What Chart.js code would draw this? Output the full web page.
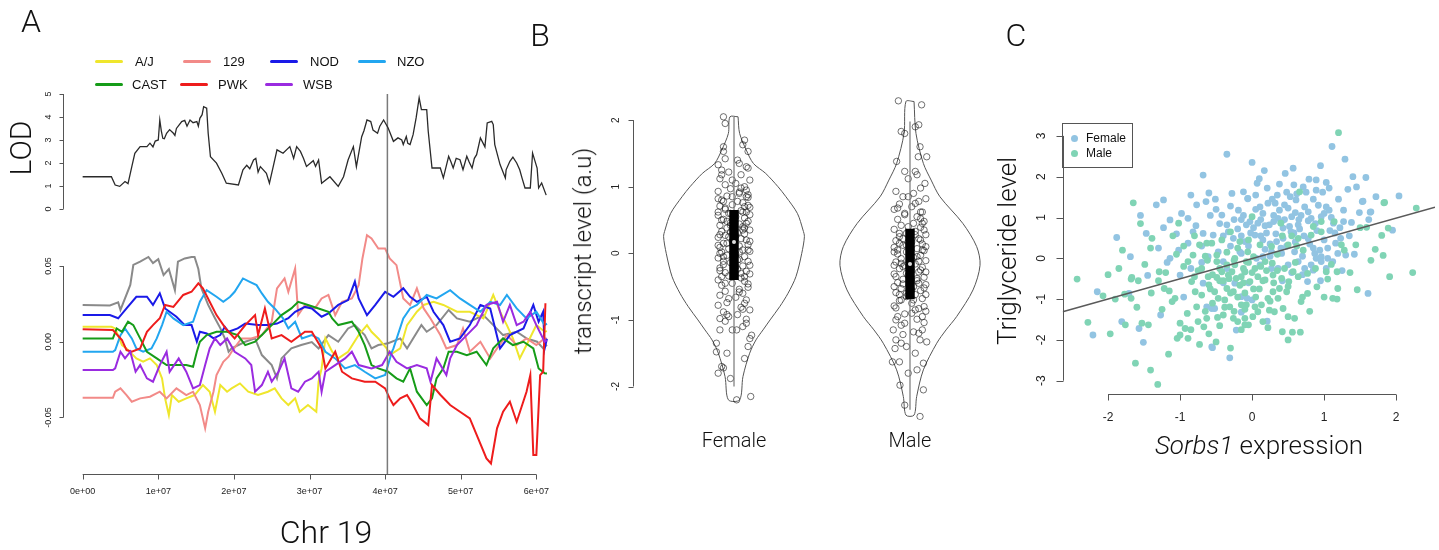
<!DOCTYPE html>
<html>
<head>
<meta charset="utf-8">
<script src="https://cdn.jsdelivr.net/npm/chart.js@4.4.0/dist/chart.umd.min.js"></script>
<style>
body { margin: 0; background: #fff; }
#wrap { position: relative; width: 1439px; height: 550px; overflow: hidden; font-family: "Liberation Sans", Arial, sans-serif; color: #111; }
#wrap canvas { position: absolute; left: 0; top: 0; }
.t { position: absolute; white-space: nowrap; line-height: 1; transform: translate(-50%, -50%); }
.big { font-family: Roboto, "Liberation Sans", sans-serif; font-weight: 300; }
.rot { transform: translate(-50%, -50%) rotate(-90deg); }
.seg { position: absolute; height: 3px; width: 28px; border-radius: 2px; }
.lg { position: absolute; font-size: 13px; line-height: 1; transform: translateY(-50%); }
</style>
</head>
<body>
<div id="wrap">
  <canvas id="lodChart" width="1439" height="550"></canvas>
  <canvas id="effChart" width="1439" height="550"></canvas>
  <canvas id="violinChart" width="1439" height="550"></canvas>
  <canvas id="scatterChart" width="1439" height="550"></canvas>

  <div class="t big" style="left:31px;top:21px;font-size:32px">A</div>
  <div class="t big" style="left:540px;top:35px;font-size:32px">B</div>
  <div class="t big" style="left:1016px;top:35px;font-size:32px">C</div>

  <div class="t big rot" style="left:21px;top:148px;font-size:30px">LOD</div>
  <div class="t big" style="left:326px;top:532px;font-size:32px">Chr 19</div>
  <div class="t big rot" style="left:583px;top:251px;font-size:24px">transcript level (a.u)</div>
  <div class="t big" style="left:734px;top:440px;font-size:20px">Female</div>
  <div class="t big" style="left:910px;top:440px;font-size:20px">Male</div>
  <div class="t big rot" style="left:1007px;top:251px;font-size:26px">Triglyceride level</div>
  <div class="t big" style="left:1259px;top:445px;font-size:26px"><i>Sorbs1</i> expression</div>

  <div id="legendA"></div>

  <div style="position:absolute;left:1062px;top:123px;width:71px;height:45px;border:1px solid #555;box-sizing:border-box"></div>
  <div style="position:absolute;left:1071px;top:135px;width:7px;height:7px;border-radius:50%;background:#92c4e2"></div>
  <div class="lg" style="left:1086px;top:138px;font-size:12px">Female</div>
  <div style="position:absolute;left:1071px;top:150px;width:7px;height:7px;border-radius:50%;background:#80d4b5"></div>
  <div class="lg" style="left:1086px;top:153px;font-size:12px">Male</div>
</div>

<script>
// ---------- Panel A data (position in Mb, effects in 1e-3) ----------
const strainNames = ['A/J', '129', 'NOD', 'NZO', 'CAST', 'PWK', 'WSB'];
const strainColors = ['#efe62c', '#f28a88', '#1a1ae8', '#22a6f0', '#169c18', '#ee1c1c', '#9a2be0'];
const b6Color = '#8a8a8a';

const lodTrace = [[0,1.40],[3.8,1.40],[4.3,1.04],[4.9,0.98],[5.6,1.19],[6.0,1.10],[6.5,1.84],[6.9,2.42],[7.6,2.71],[8.5,2.71],[8.9,2.86],[9.3,2.70],[9.6,2.95],[10.0,3.0],[10.2,3.87],[10.4,3.4],[10.6,3.07],[10.8,3.05],[11.1,3.29],[11.5,3.45],[12.0,3.29],[12.2,3.2],[12.4,3.5],[13.1,3.8],[13.5,3.85],[13.8,3.6],[14.2,3.87],[14.6,3.75],[15.1,3.8],[15.3,3.6],[15.5,3.94],[15.8,4.1],[16.0,4.45],[16.4,4.38],[16.6,3.29],[16.9,2.27],[17.7,1.99],[18.4,1.55],[19.0,1.12],[20.6,1.04],[21.2,1.70],[21.7,1.9],[22.1,1.75],[22.6,2.13],[22.9,2.2],[23.2,1.6],[23.5,1.84],[24.3,1.55],[24.7,1.12],[25.2,1.84],[25.7,2.57],[26.5,2.42],[27.4,2.71],[27.9,2.2],[28.3,2.71],[28.8,2.5],[29.2,2.2],[29.6,1.85],[30.1,1.99],[30.5,2.1],[30.8,1.85],[31.2,2.13],[31.6,1.12],[32.7,1.40],[33.8,0.98],[34.5,1.40],[35.1,2.13],[35.8,2.71],[36.2,1.84],[36.9,3.14],[37.2,3.4],[37.6,3.87],[38.1,3.8],[38.4,3.43],[39.0,3.29],[39.3,3.6],[39.8,3.87],[40.4,3.52],[41.1,2.94],[41.7,3.09],[42.2,3.0],[42.4,2.8],[42.8,3.15],[43.0,2.85],[43.3,2.8],[43.7,3.23],[44.1,3.96],[44.5,4.83],[44.8,4.32],[45.5,4.32],[45.7,3.38],[46.2,1.78],[47.3,1.78],[47.7,1.35],[48.4,2.29],[48.7,2.05],[49.0,1.78],[49.4,2.2],[49.9,2.14],[50.3,1.71],[50.8,2.29],[51.1,2.05],[51.5,1.78],[51.8,2.2],[52.1,2.36],[52.6,3.09],[53.2,2.7],[53.5,3.74],[54.1,3.81],[54.3,3.67],[54.5,2.8],[55.2,1.93],[55.9,1.35],[56.0,1.7],[56.5,2.07],[56.9,2.25],[57.4,2.0],[57.8,1.7],[58.1,1.35],[58.5,0.91],[59.2,0.91],[59.5,2.43],[59.8,2.1],[60.1,1.78],[60.3,0.91],[60.7,1.13],[61.3,0.6]];

const effB6 = [[0,24.3],[3.6,24],[4.7,26],[5.0,21],[6.3,37.5],[6.7,50.7],[7.6,52.9],[8.7,56],[9.3,52],[10.0,54.5],[10.7,44],[11.4,48],[12.2,34],[12.6,52.9],[13.5,55],[14.4,56],[14.8,56],[15.3,48],[15.7,35.3],[16.6,24.3],[17.5,15.5],[18.2,9],[18.8,2.2],[19.3,-6.6],[19.7,-4.4],[21.5,0],[22.8,2.2],[23.7,-8.8],[25.0,-15.4],[25.7,-24.2],[26.3,-11],[27.6,-4.4],[28.9,-2.2],[30.3,-0.2],[31.2,-4.4],[32.5,4.4],[33.8,0],[35.1,8.8],[36.0,11],[37.3,4.4],[38.2,-4.4],[39.1,-2.2],[40.4,-1],[42.0,2.2],[42.9,-4.4],[43.7,2.2],[44.8,11],[45.5,6.6],[46.8,11],[48.4,21],[49.5,15.4],[51.2,13.2],[53.0,17.6],[54.3,11],[55.6,4.4],[57.4,6.6],[58.7,2.2],[60.1,0],[60.9,-4.4],[61.4,-2]];
const effAJ = [[0,9.9],[3.8,9.9],[4.3,8.8],[5.2,-2.2],[5.8,-4.4],[7.1,-11],[8.0,-13.2],[8.9,-11],[9.8,-15.4],[10.5,-24.2],[10.9,-37.4],[11.4,-48.4],[11.8,-35.2],[12.7,-39.6],[13.7,-37.4],[14.8,-35.2],[15.9,-28.6],[16.8,-33],[17.5,-46.2],[18.2,-28.6],[19.1,-33],[19.7,-30.8],[20.8,-27.5],[21.9,-33],[23.2,-35.2],[24.5,-33],[25.4,-30.8],[26.3,-37.4],[27.2,-41.8],[28.1,-37.4],[28.7,-46.2],[29.8,-41.8],[30.9,-46.2],[31.2,-26.4],[31.6,-17.6],[32.1,2.2],[33.0,-6.6],[33.8,-11],[35.1,-6.6],[36.5,4.4],[37.6,11],[38.2,6.6],[39.1,2.2],[40.2,-4.4],[40.6,-8.8],[42.0,-4.4],[42.9,11],[44.2,19.8],[45.1,24.3],[46.4,26.4],[47.7,24.3],[49.5,19.8],[51.2,19.8],[53.0,15.4],[54.3,30.9],[55.2,19.8],[56.1,11],[56.9,2.2],[57.8,-11],[58.7,-2.2],[60.0,11],[61.1,6.6],[61.4,7]];
const eff129 = [[0,-37],[4.0,-37],[4.3,-33],[5.0,-30.8],[5.8,-35.2],[6.5,-39.6],[7.6,-37.4],[8.9,-36.3],[10.2,-33],[11.1,-37.4],[12.4,-30.8],[13.7,-35.2],[14.6,-33],[15.5,-41.8],[16.2,-57.2],[16.6,-46.2],[17.3,-33],[17.7,-22],[18.6,-13.2],[19.3,-9.9],[19.7,-6.6],[21.0,2.2],[22.3,2.2],[23.7,4.4],[25.0,13.2],[25.7,35.3],[26.7,41.8],[27.2,33],[28.1,48.4],[28.5,17.6],[29.4,24.3],[30.7,22],[31.6,28.6],[32.5,30.9],[33.4,17.6],[34.3,26.4],[35.6,28.6],[36.5,37.4],[37.0,55],[37.6,70.4],[38.2,68.2],[39.1,61.6],[40.0,61.6],[40.6,55],[41.5,50.6],[42.4,28.6],[43.3,24.3],[44.2,35.2],[45.1,22],[46.0,15.4],[47.3,4.4],[48.1,-4.4],[49.5,-2.2],[50.3,8.8],[51.2,-6.6],[52.6,0],[53.9,-11],[54.8,-4.4],[56.1,4.4],[57.4,-2.2],[58.7,2.2],[60.0,-2.2],[61.1,2.2],[61.4,2]];
const effNOD = [[0,17.6],[3.6,17.6],[4.7,15.5],[5.8,22],[7.1,29.7],[8.5,29.7],[9.3,24.3],[10.2,32],[10.9,22],[11.5,19.8],[12.4,16.5],[13.5,11],[14.4,11],[15.1,0],[15.5,6.6],[16.4,5.5],[17.3,2.2],[18.2,4.4],[18.8,9.9],[19.3,6.6],[20.5,8.8],[21.5,12],[23.2,11],[24.5,11],[25.7,12],[27.2,15.5],[28.1,19.8],[29.4,23],[30.3,22],[31.6,16.5],[32.5,18.7],[33.8,24.3],[35.1,27.5],[36.0,39.7],[36.5,28.6],[37.6,17.6],[38.7,24.3],[40.0,33],[41.1,29.7],[42.4,35.3],[43.3,29.7],[44.2,26.4],[45.5,29.7],[46.4,19.8],[47.7,11],[48.6,0],[49.9,2.2],[51.2,11],[52.6,24.3],[53.9,22],[55.2,-4.4],[56.5,4.4],[58.3,8.8],[59.6,24.3],[60.3,13.2],[60.9,19.8],[61.1,-4.4],[61.4,2]];
const effNZO = [[0,-6.6],[4.0,-6.6],[4.3,-5.5],[5.0,4.4],[5.6,8.8],[6.5,2.2],[7.1,-4.4],[8.0,-6.6],[9.1,-4.4],[9.8,2.2],[10.5,11],[11.1,19.8],[12.0,15.4],[13.3,11],[14.6,13.2],[15.5,26.4],[16.4,34.1],[17.7,29.7],[18.6,26.4],[19.5,29.7],[20.1,33],[21.2,41.8],[22.1,39.6],[23.0,37.4],[23.7,31.9],[24.5,26.4],[25.4,22],[26.5,15.4],[27.2,8.8],[28.1,13.2],[29.0,2.2],[30.3,4.4],[31.2,2.2],[32.1,-6.6],[33.4,-11],[34.7,-17.6],[36.0,-15.4],[37.3,-19.8],[38.7,-24.2],[40.0,-22],[40.9,-6.6],[41.1,-4.4],[42.4,15.4],[43.3,22],[44.2,24.3],[45.5,30.9],[46.8,28.6],[48.6,34.1],[49.9,28.6],[51.2,24.3],[52.6,19.8],[53.9,26.4],[55.2,24.3],[56.1,30.9],[57.4,22],[58.7,15.4],[60.0,19.8],[61.1,11],[61.4,12]];
const effCAST = [[0,2.2],[4.0,2.2],[4.5,8.8],[5.2,6.6],[6.0,13.2],[6.7,11],[7.6,2.2],[8.5,-6.6],[9.8,-11],[11.1,-15.4],[12.4,-15.4],[13.7,-15.4],[14.6,-16.5],[15.1,-6.6],[15.5,0],[16.4,4.4],[17.7,6.6],[19.1,6.6],[20.5,4.4],[21.5,-2.2],[22.8,0],[23.7,4.4],[25.0,11],[26.3,17.6],[27.6,22],[28.5,26.4],[29.8,24.3],[31.2,22],[32.5,19.8],[33.0,15.4],[33.8,11],[35.6,13.2],[36.5,6.6],[37.3,-2.2],[38.2,-15.4],[39.1,-17.6],[40.4,-19.8],[41.5,-24.2],[42.4,-26.4],[43.3,-17.6],[44.2,-33],[45.5,-41.8],[46.2,-37.4],[46.8,-24.2],[47.7,-17.6],[48.4,-6.6],[49.5,-6.6],[50.8,-8.8],[52.1,-6.6],[53.4,-15.4],[54.3,-4.4],[55.6,2.2],[56.9,-2.2],[58.3,0],[59.6,-4.4],[60.3,-17.6],[61.1,-20.9],[61.4,-21]];
const effPWK = [[0,8.2],[4.0,7.7],[5.2,1.1],[5.8,-5.5],[6.5,-6.6],[7.6,-4.4],[8.5,6.6],[9.3,11],[10.2,15.5],[10.9,24.3],[12.0,23],[13.3,30.9],[14.4,33],[15.3,38.6],[15.9,35.3],[16.8,26.4],[17.7,17.6],[18.9,8.8],[20.1,2.2],[21.5,11],[22.8,17.6],[23.2,4.4],[24.1,22],[25.0,2.2],[26.3,4.4],[27.6,0],[29.4,6.6],[30.3,6.6],[31.6,-4.4],[32.1,-17.6],[33.4,-6.6],[34.3,-19.8],[35.6,-24.2],[37.3,-26.4],[38.7,-26.4],[40.0,-30.8],[40.6,-37.4],[41.1,-41.8],[42.0,-37.4],[42.9,-35.2],[43.7,-41.8],[44.6,-50.6],[45.7,-55],[46.2,-28.6],[47.3,-35],[48.6,-41.8],[49.9,-46.2],[51.2,-50.6],[52.3,-63.8],[53.4,-77],[54.0,-80.4],[54.8,-57.2],[55.6,-46.2],[56.5,-39.6],[57.4,-52.8],[58.7,-33],[59.2,-22],[59.6,-74.8],[60.0,-74.8],[60.5,-22],[60.9,-19.8],[61.2,25.4]];
const effWSB = [[0,-18.7],[4.0,-18.7],[4.3,-17.6],[5.0,-6.6],[5.6,-11],[6.3,-6.6],[7.0,-19.8],[7.6,-15.4],[8.5,-24.2],[9.3,-26.4],[10.2,-15.4],[11.1,-6.6],[11.5,-19.8],[12.7,-11],[13.7,-19.8],[14.6,-30.8],[15.5,-28.6],[16.2,-15.4],[16.8,-4.4],[17.5,2.2],[18.2,-2.2],[19.1,2.2],[20.1,-6.6],[21.5,-11],[22.3,-15.4],[22.8,-33],[23.7,-28.6],[24.5,-19.8],[25.0,-26.4],[25.9,-19.8],[26.7,-11],[27.6,-30.8],[28.5,-33],[29.4,-26.4],[30.3,-24.2],[31.2,-19.8],[31.6,-33],[32.1,-19.8],[33.4,-15.4],[34.7,-11],[35.6,-6.6],[36.5,-15.4],[38.2,-17.6],[39.6,-15.4],[40.6,-6.6],[41.5,-13.2],[42.9,-17.6],[44.2,-15.4],[45.5,-17.6],[46.0,-26.4],[46.8,-11],[48.1,-22],[48.6,-11],[49.5,-2.2],[50.8,4.4],[52.1,11],[53.4,24.3],[54.8,26.4],[55.6,13.2],[56.5,24.3],[57.4,11],[58.3,13.2],[59.2,19.8],[60.0,11],[61.1,0],[61.4,1]];

const peakMb = 40.3;
const mbTicks = [0, 10, 20, 30, 40, 50, 60];
const mbLabels = ['0e+00', '1e+07', '2e+07', '3e+07', '4e+07', '5e+07', '6e+07'];
const lodTicks = [0, 1, 2, 3, 4, 5];
const effTicks = [-50, 0, 50];
const effLabels = ['-0.05', '0.00', '0.05'];

// ---------- Panel B data ----------
const sexes = ['Female', 'Male'];
const femaleOutlineY = [2.05, 1.80, 1.55, 1.35, 1.20, 1.00, 0.85, 0.60, 0.35, 0.25, 0.00, -0.35, -0.60, -0.80, -1.00, -1.15, -1.30, -1.50, -1.85, -2.20];
const femaleOutlineW = [0.023, 0.032, 0.070, 0.11, 0.18, 0.25, 0.295, 0.36, 0.392, 0.40, 0.385, 0.352, 0.307, 0.26, 0.205, 0.165, 0.125, 0.089, 0.051, 0.032];
const maleOutlineY = [2.28, 1.80, 1.35, 1.10, 0.85, 0.45, 0.10, -0.18, -0.55, -0.95, -1.15, -1.35, -1.75, -2.15, -2.43];
const maleOutlineW = [0.023, 0.034, 0.076, 0.12, 0.17, 0.30, 0.379, 0.398, 0.358, 0.265, 0.205, 0.152, 0.076, 0.038, 0.023];
// [whiskerLow, q1, median, q3, whiskerHigh]
const femaleBox = [-2.0, -0.40, 0.17, 0.65, 2.05];
const maleBox = [-2.35, -0.69, -0.16, 0.37, 1.98];
const transcriptTicks = [-2, -1, 0, 1, 2];

// jitter offset from group centre, transcript level
const femaleJitter = [[-0.06,2.05],[-0.05,1.95],[-0.06,1.60],[-0.06,1.53],[0.06,1.70],[0.05,1.63],[0.08,1.53],[-0.09,1.33],[-0.07,1.25],[0.02,1.40],[0.03,1.35],[0.08,1.28],[-0.03,1.22],[0.04,1.18],[-0.08,1.12],[0.09,1.10],[0.01,1.05],[-0.05,1.03],[0.06,1.00],[-0.02,0.97],[0.07,0.95],[-0.09,0.93],[0.03,0.90],[-0.04,0.86],[0.08,0.84],[-0.07,0.80],[0.02,0.78],[0.05,0.76],[-0.01,0.73],[-0.08,0.71],[0.09,0.69],[-0.05,0.66],[0.04,0.64],[0.07,0.62],[-0.03,0.60],[-0.09,0.57],[0.01,0.55],[0.06,0.53],[-0.06,0.51],[0.08,0.48],[-0.02,0.46],[0.03,0.44],[-0.08,0.42],[0.05,0.40],[-0.04,0.38],[0.09,0.35],[-0.07,0.33],[0.02,0.31],[0.06,0.29],[-0.05,0.27],[-0.09,0.24],[0.04,0.22],[0.07,0.20],[-0.01,0.18],[-0.06,0.15],[0.08,0.13],[0.03,0.11],[-0.08,0.09],[-0.03,0.07],[0.05,0.05],[0.09,0.03],[-0.07,0.02],[0.01,-0.01],[-0.04,-0.03],[0.06,-0.05],[-0.09,-0.07],[0.03,-0.09],[0.08,-0.12],[-0.02,-0.14],[-0.06,-0.17],[0.05,-0.19],[-0.08,-0.22],[0.02,-0.24],[0.07,-0.27],[-0.05,-0.29],[0.09,-0.31],[-0.03,-0.34],[0.04,-0.37],[-0.09,-0.40],[0.06,-0.42],[-0.01,-0.45],[-0.07,-0.48],[0.08,-0.51],[0.03,-0.54],[-0.05,-0.57],[0.05,-0.60],[-0.08,-0.63],[0.01,-0.66],[0.07,-0.70],[-0.04,-0.74],[-0.09,-0.78],[0.04,-0.81],[0.09,-0.85],[-0.06,-0.88],[0.02,-0.92],[-0.03,-0.95],[0.07,-0.99],[-0.08,-1.15],[-0.10,-1.35],[-0.10,-1.48],[-0.04,-1.50],[-0.07,-1.70],[-0.06,-1.72],[-0.09,-1.80],[-0.02,-1.88],[0.09,-1.28],[0.10,-1.23],[0.06,-1.58],[0.015,-2.2],[0.095,-2.15],[0.015,-1.15],[0.07,-1.05],[-0.01,-1.15],[-0.05,-1.02],[0.05,-1.10],[-0.08,-0.98],[0.08,-1.40],[-0.07,0.50],[0.05,0.35],[-0.04,0.15],[0.06,0.70],[-0.02,0.60],[0.08,0.05],[-0.06,-0.05],[0.04,-0.30],[-0.09,0.82],[0.09,0.58],[-0.03,0.25],[0.01,-0.20],[0.07,0.45],[-0.08,0.00],[0.03,0.92],[-0.05,-0.45],[0.06,-0.75],[-0.01,1.10],[0.08,0.88],[-0.07,-0.35],[-0.02,0.32],[0.05,0.62],[-0.06,0.78],[0.09,0.18],[-0.08,-0.26],[0.03,-0.58],[-0.04,0.48],[0.07,0.85],[-0.09,0.12],[0.02,-0.10],[0.06,0.38],[-0.05,0.68],[0.08,-0.46],[-0.03,-0.68],[0.04,0.98],[-0.07,1.18],[0.01,0.26],[0.09,-0.18],[-0.01,0.85],[-0.06,-0.12],[0.05,-0.84],[-0.09,0.62],[0.07,1.30],[-0.04,-0.92],[0.03,0.02],[0.08,0.72],[-0.02,0.42],[-0.08,0.28],[0.06,-0.35],[-0.05,1.42]];
const maleJitter = [[-0.066,2.29],[0.066,2.23],[0.03,1.90],[0.05,1.93],[-0.05,1.83],[-0.03,1.80],[0.057,1.60],[0.095,1.45],[0.047,1.45],[-0.076,1.38],[-0.03,1.23],[0.04,1.18],[0.03,1.23],[0.085,1.05],[-0.01,1.12],[0.06,0.98],[-0.08,0.93],[0.02,0.90],[-0.04,0.85],[0.09,0.82],[0.05,0.78],[-0.06,0.74],[0.01,0.70],[-0.09,0.66],[0.07,0.62],[-0.03,0.58],[0.04,0.55],[-0.07,0.51],[0.08,0.48],[0.02,0.45],[-0.05,0.42],[0.06,0.39],[-0.09,0.36],[0.03,0.33],[-0.02,0.30],[0.09,0.28],[-0.06,0.25],[0.05,0.22],[-0.08,0.19],[0.01,0.17],[0.07,0.14],[-0.04,0.12],[-0.09,0.09],[0.04,0.07],[0.08,0.04],[-0.02,0.02],[-0.07,-0.01],[0.06,-0.03],[0.02,-0.06],[-0.05,-0.08],[0.09,-0.11],[-0.08,-0.13],[0.03,-0.16],[-0.03,-0.18],[0.07,-0.21],[-0.06,-0.23],[0.01,-0.26],[0.05,-0.28],[-0.09,-0.31],[-0.01,-0.33],[0.08,-0.36],[-0.04,-0.39],[0.04,-0.41],[-0.07,-0.44],[0.09,-0.47],[0.02,-0.50],[-0.05,-0.53],[0.06,-0.56],[-0.08,-0.59],[0.03,-0.62],[-0.02,-0.65],[0.07,-0.68],[-0.06,-0.71],[0.01,-0.75],[-0.09,-0.79],[0.05,-0.83],[0.09,-0.87],[-0.03,-0.91],[-0.07,-0.95],[0.04,-0.99],[0.08,-1.04],[-0.05,-1.08],[-0.095,-1.15],[-0.085,-1.43],[-0.10,-1.63],[-0.06,-1.63],[-0.01,-1.80],[0.04,-1.75],[0.076,-1.65],[-0.057,-1.98],[0.076,-2.05],[-0.03,-2.28],[0.057,-2.45],[0.03,-1.50],[0.095,-1.33],[0.057,-1.30],[-0.04,-1.22],[0.02,-1.18],[-0.08,-1.30],[0.07,-1.15],[-0.02,-1.40],[-0.07,0.05],[0.05,-0.45],[-0.04,-0.20],[0.06,0.20],[-0.02,-0.60],[0.08,-0.80],[-0.06,0.30],[0.04,-0.05],[-0.09,-0.50],[0.09,0.10],[-0.03,0.60],[0.01,-0.90],[0.07,0.45],[-0.08,-0.35],[0.03,0.75],[-0.05,-0.70],[0.06,-0.25],[-0.01,0.40],[-0.02,-0.30],[0.05,-0.12],[-0.06,0.15],[0.09,-0.62],[-0.08,-0.82],[0.03,0.28],[-0.04,-0.46],[0.07,-0.95],[-0.09,0.02],[0.02,-0.70],[0.06,0.52],[-0.05,-0.15],[0.08,0.35],[-0.03,-1.05],[0.04,-0.38],[-0.07,0.68],[0.01,-0.55],[0.09,-0.28],[-0.01,0.85],[-0.06,-0.62],[0.05,-1.20],[-0.09,-0.18],[0.07,0.05],[-0.04,0.22],[0.03,-0.85],[0.08,-0.52],[-0.02,0.12],[-0.08,-1.00],[0.06,0.62],[-0.05,-1.35]];

// ---------- Panel C data: [Sorbs1, triglyceride] ----------
const femalePts = [[-0.35,2.55],[-0.68,2.04],[-1.23,1.43],[-1.33,1.31],[-0.77,1.31],[-0.64,1.39],[-0.51,1.45],[-0.28,1.59],[-0.12,1.63],[-0.06,1.46],[-0.19,1.18],[-0.42,1.06],[-0.98,1.1],[-1.14,0.94],[-1.23,0.75],[-1.47,0.61],[-1.88,0.51],[-0.89,0.98],[-0.82,0.65],[-0.68,0.61],[-0.89,0.37],[-1.02,0.2],[-1.14,0.0],[-1.69,0.04],[-1.18,-0.1],[-1.0,-0.41],[-0.54,0.57],[-0.35,0.82],[-0.33,0.65],[-0.26,0.49],[-0.47,0.16],[-0.61,0.04],[-0.40,-0.08],[-0.17,0.16],[-0.10,0.41],[-2.15,-0.82],[-1.71,-0.86],[-1.81,-1.55],[-2.21,-1.88],[-1.57,-1.72],[-1.51,-2.06],[-1.27,-1.39],[-0.56,-1.23],[-0.63,-1.19],[-0.52,-1.23],[-0.56,-2.17],[-0.31,-2.44],[-0.22,-1.76],[-0.15,-1.32],[-0.24,-0.61],[-0.15,-0.94],[-0.68,-0.61],[1.11,2.74],[1.29,2.43],[0.0,2.35],[0.17,2.15],[0.46,2.08],[0.57,2.21],[0.95,2.27],[1.40,2.0],[1.58,1.98],[0.07,1.84],[0.21,1.72],[0.79,1.94],[0.89,1.92],[1.03,1.86],[1.07,1.72],[1.33,1.69],[0.89,1.67],[0.71,1.75],[0.58,1.8],[0.35,1.55],[0.53,1.51],[-0.06,1.47],[0.11,1.26],[0.22,1.35],[0.45,1.31],[0.50,1.23],[0.61,1.43],[0.73,1.26],[1.03,1.26],[1.27,1.18],[1.54,1.40],[1.65,1.14],[1.72,1.51],[2.04,1.53],[1.49,1.12],[1.13,0.86],[1.27,0.9],[0.82,0.98],[0.78,1.14],[0.96,1.02],[0.36,0.98],[0.24,0.82],[0.08,0.86],[-0.03,0.9],[0.43,0.74],[0.54,0.65],[0.64,0.82],[0.04,0.57],[0.15,0.45],[0.34,0.41],[0.43,0.49],[0.27,0.16],[0.41,0.12],[0.59,0.16],[0.87,0.12],[0.94,0.2],[0.85,0.25],[0.89,0.0],[0.96,0.04],[1.19,0.12],[1.42,0.10],[1.23,0.49],[1.16,0.37],[1.12,-0.08],[1.03,-0.25],[0.82,-0.16],[0.73,-0.25],[0.64,-0.08],[0.50,-0.16],[0.85,-0.29],[0.77,-0.57],[1.05,0.0],[0.96,-0.08],[1.95,0.69],[1.61,-0.86],[-0.10,-0.33],[-0.07,-0.98],[0.0,-1.02],[0.21,-1.54],[0.06,0.0],[0.11,-0.16],[0.15,0.04],[0.27,-0.25],[0.36,-0.25],[1.30,0.08],[1.07,1.18],[1.53,1.39],[1.64,1.13],[-0.55,-2.19],[0.30,1.05],[0.38,1.18],[0.12,0.95],[0.55,1.02],[0.66,0.72],[0.72,0.55],[0.48,0.30],[0.20,0.62],[-0.20,0.72],[-0.05,0.30],[0.02,0.75],[0.60,1.12],[0.40,0.88],[0.15,1.10],[-0.15,0.95],[-0.45,0.85],[-0.58,1.05],[0.90,0.68],[1.00,0.45],[0.78,0.92],[-0.70,0.30],[-0.30,0.30],[0.25,0.05],[0.70,0.05],[1.15,0.62],[-0.85,-0.25],[-0.40,-0.60],[-0.05,-0.60],[0.42,-0.55],[0.95,-0.55],[-1.45,-0.42],[-0.95,-0.95],[0.05,1.55],[-0.30,1.28],[0.62,1.58],[0.32,1.35],[1.20,1.45],[0.85,1.45],[-0.85,1.55],[-0.15,0.55],[0.45,0.95],[0.52,0.78],[0.68,1.05],[0.33,0.60],[0.18,0.80],[0.05,1.20],[-0.12,1.05],[0.28,1.45],[0.75,1.62],[0.92,1.30],[1.10,1.00],[1.22,0.75],[1.35,0.55],[0.60,0.40],[0.80,0.35],[1.05,0.25],[0.25,0.35],[-0.02,0.62],[-0.25,0.95],[-0.50,1.20],[-0.40,0.55],[-0.78,0.80],[-0.60,1.60],[0.10,1.95],[0.38,1.82],[0.98,1.62],[1.45,1.75],[1.62,0.95],[1.38,0.88],[0.70,-0.40],[1.25,-0.30],[0.55,-0.35],[0.18,0.22],[-0.15,0.12],[-0.35,-0.25],[-0.70,-0.10],[-1.30,0.25],[-1.05,0.60],[-1.55,1.05],[0.48,1.62],[0.88,0.85],[0.65,0.95],[0.30,0.90],[1.00,1.10],[0.40,0.25],[0.12,0.55],[-0.08,0.82],[0.58,0.62],[0.78,0.48],[1.08,0.68]];
const malePts = [[1.20,3.08],[-2.43,-0.51],[-2.28,-1.57],[-2.07,-0.92],[-1.97,-1.85],[-1.65,1.36],[-1.67,-0.47],[-1.62,-2.57],[-1.41,-2.74],[-1.31,-3.09],[-1.16,-2.35],[2.28,1.23],[2.23,-0.35],[1.91,-0.45],[1.83,1.36],[1.89,0.74],[1.80,0.56],[1.82,0.07],[1.71,0.22],[1.59,0.76],[1.44,0.33],[1.46,-0.77],[1.36,-0.35],[1.18,-1.0],[0.67,-1.81],[-1.77,-0.88],[-1.68,-0.51],[-1.58,-0.55],[-1.68,-0.98],[-1.76,-1.63],[-1.53,-1.59],[-1.44,-1.63],[-1.39,0.49],[-1.41,0.25],[-1.49,-0.15],[-1.29,-0.33],[-1.02,0.86],[-0.89,-0.08],[-1.22,-0.74],[-1.07,-0.98],[-1.11,-1.06],[-1.0,-1.59],[-0.93,-1.72],[-1.04,-1.96],[-1.0,-1.88],[-0.89,-1.96],[-0.73,-2.11],[-0.67,-1.68],[-0.63,-1.47],[-0.77,-1.19],[-0.79,-0.82],[-0.84,-0.57],[-0.70,-0.25],[-0.82,0.08],[-0.73,0.33],[-0.63,0.37],[-0.56,0.37],[-0.49,0.08],[-0.42,-0.33],[-0.49,-0.47],[-0.40,-0.55],[-0.33,-0.41],[-0.35,-0.74],[-0.52,-0.82],[-0.47,-0.98],[-0.38,-1.02],[-0.31,-1.19],[-0.15,-1.14],[-0.40,-1.39],[-0.26,-1.47],[-0.10,-1.63],[-0.08,-1.14],[-0.26,-0.82],[-0.17,-0.66],[-0.49,-0.08],[-0.35,-0.16],[-0.24,-0.16],[-0.28,-0.33],[-0.10,-0.33],[-0.08,-0.08],[-0.24,0.0],[-0.12,-0.25],[-0.22,-0.49],[-0.17,0.41],[-0.06,0.16],[-0.61,-0.45],[1.84,1.37],[1.19,-0.74],[1.12,-0.98],[1.18,-0.33],[1.14,0.9],[1.24,0.33],[1.03,-0.33],[1.05,-0.51],[0.96,0.65],[0.77,-0.86],[0.68,-1.06],[0.56,-1.81],[0.51,-0.57],[0.50,-0.69],[0.48,-0.82],[0.59,-1.47],[0.50,-1.43],[0.43,-1.23],[0.36,-0.98],[0.38,-0.74],[0.29,-0.82],[0.22,-0.98],[0.13,-1.14],[0.08,-1.31],[0.04,-1.19],[-0.05,-1.63],[0.01,-1.43],[-0.10,-1.47],[0.24,-1.27],[0.31,-1.31],[0.18,-0.53],[0.08,-0.45],[-0.03,-0.57],[0.04,-0.25],[0.29,-0.41],[0.41,-0.49],[0.45,-0.25],[0.57,-0.33],[0.64,-0.45],[0.77,-0.37],[0.18,-0.08],[0.02,0.04],[0.27,0.29],[0.50,0.33],[0.71,0.2],[0.64,0.49],[0.82,0.57],[0.96,0.9],[0.85,0.78],[0.40,0.86],[0.0,1.02],[0.11,0.33],[0.66,1.63],[-0.60,-0.65],[-0.20,-0.95],[-0.55,-1.10],[0.10,-0.75],[-0.15,-0.45],[-0.45,-0.25],[-0.05,-0.10],[0.20,-0.30],[-0.35,0.15],[-0.70,-0.90],[-0.90,-1.35],[-0.10,-0.85],[0.30,-0.60],[-0.25,-1.30],[0.15,-1.55],[-0.65,0.05],[-0.80,-0.45],[0.60,-0.10],[0.90,-0.70],[-1.20,-0.35],[-1.30,-0.55],[-1.10,0.55],[-0.95,0.30],[0.35,0.10],[0.55,0.55],[-0.30,0.65],[-0.15,-1.75],[-0.60,-1.85],[0.42,-1.80],[0.80,-1.30],[-0.45,-1.65],[1.00,-0.95],[0.25,-1.05],[-0.75,-1.55],[-0.50,-2.05],[-1.25,-1.25],[1.50,0.75],[1.65,-0.05],[1.28,0.20],[-1.80,0.20],[-2.00,-0.40],[-1.90,-1.00],[-1.55,0.85],[-0.45,-0.55],[-0.30,-0.85],[-0.12,-0.60],[0.05,-0.95],[-0.38,-1.20],[-0.65,-1.30],[-0.55,-0.40],[-0.25,-0.05],[0.00,-0.35],[0.12,-0.20],[-0.20,0.25],[-0.42,0.45],[-0.80,0.55],[-1.05,0.10],[-1.15,-0.80],[-0.85,-1.75],[-0.30,-2.20],[0.22,-1.70],[0.50,-2.00],[0.70,-0.95],[0.35,-0.30],[0.28,-0.12],[0.88,-0.25],[1.10,-0.15],[0.62,0.30],[0.42,0.55],[-0.05,0.45],[-0.62,-0.05],[-0.95,-0.20],[-1.40,-0.85],[-1.60,-1.20],[-1.85,-0.25],[-0.20,-1.55],[-0.48,-1.45],[0.02,-0.75],[-0.10,-1.25],[0.15,-0.55],[-0.32,-0.50],[-0.58,-0.75],[-0.75,-0.30]];
const fitLineX = [-2.63, 2.54];
const fitLineY = [-1.31, 1.25];
const sorbsTicks = [-2, -1, 0, 1, 2];
const trigTicks = [-3, -2, -1, 0, 1, 2, 3];

// ---------- helpers ----------
const toXY = pts => pts.map(p => ({ x: p[0], y: p[1] }));

function baseOptions(pad, xRange, yRange) {
    return {
        responsive: false,
        animation: false,
        events: [],
        layout: { padding: pad },
        plugins: { legend: { display: false }, tooltip: { enabled: false } },
        scales: {
            x: { type: 'linear', display: false, min: xRange[0], max: xRange[1] },
            y: { type: 'linear', display: false, min: yRange[0], max: yRange[1] }
        }
    };
}

// R style axes: line only spans first..last tick, y labels rotated
function rAxes(cfg) {
    return {
        id: 'rAxes',
        afterDraw(chart) {
            const { ctx, chartArea } = chart;
            ctx.save();
            ctx.strokeStyle = '#555';
            ctx.lineWidth = 1;
            ctx.fillStyle = '#222';
            ctx.textAlign = 'center';
            ctx.textBaseline = 'middle';
            if (cfg.y) {
                const s = chart.scales.y, a = cfg.y, x0 = Math.round(chartArea.left) + 0.5;
                const last = a.ticks[a.ticks.length - 1];
                ctx.beginPath();
                ctx.moveTo(x0, s.getPixelForValue(a.ticks[0]));
                ctx.lineTo(x0, s.getPixelForValue(last));
                for (const t of a.ticks) {
                    const p = Math.round(s.getPixelForValue(t)) + 0.5;
                    ctx.moveTo(x0, p);
                    ctx.lineTo(x0 - a.len, p);
                }
                ctx.stroke();
                ctx.font = a.font;
                a.ticks.forEach((t, i) => {
                    ctx.save();
                    ctx.translate(x0 - a.gap, s.getPixelForValue(t));
                    ctx.rotate(-Math.PI / 2);
                    ctx.fillText(a.labels ? a.labels[i] : String(t), 0, 0);
                    ctx.restore();
                });
            }
            if (cfg.x) {
                const s = chart.scales.x, a = cfg.x, y0 = Math.round(chartArea.bottom) - 0.5;
                const last = a.ticks[a.ticks.length - 1];
                ctx.beginPath();
                ctx.moveTo(s.getPixelForValue(a.ticks[0]), y0);
                ctx.lineTo(s.getPixelForValue(last), y0);
                for (const t of a.ticks) {
                    const p = Math.round(s.getPixelForValue(t)) + 0.5;
                    ctx.moveTo(p, y0);
                    ctx.lineTo(p, y0 + a.len);
                }
                ctx.stroke();
                ctx.font = a.font;
                a.ticks.forEach((t, i) => {
                    ctx.fillText(a.labels ? a.labels[i] : String(t), s.getPixelForValue(t), y0 + a.gap);
                });
            }
            ctx.restore();
        }
    };
}

function lineSet(points, color, width, order) {
    return { data: points, showLine: true, borderColor: color, borderWidth: width, pointRadius: 0, tension: 0, fill: false, order: order };
}

// ---------- legend A ----------
const legendPos = [[95, 61, 135], [183, 61, 223], [270, 61, 310], [358, 61, 397], [95, 84, 132], [180, 84, 218], [265, 84, 303]];
const legendA = document.getElementById('legendA');
strainNames.forEach((name, i) => {
    const [sx, sy, tx] = legendPos[i];
    legendA.insertAdjacentHTML('beforeend',
        `<div class="seg" style="left:${sx}px;top:${sy - 1.5}px;background:${strainColors[i]}"></div>` +
        `<div class="lg" style="left:${tx}px;top:${sy}px">${name}</div>`);
});

const smallFont = '9px "Liberation Sans", Arial';

// ---------- A top: LOD ----------
const xRangeA = [-2.6, 64.0];
new Chart(document.getElementById('lodChart'), {
    type: 'scatter',
    data: {
        datasets: [
            lineSet([{ x: peakMb, y: -0.7 }, { x: peakMb, y: 5.0 }], '#7a7a7a', 1.5, 1),
            lineSet(toXY(lodTrace), '#2a2a2a', 1.3, 0)
        ]
    },
    options: baseOptions({ left: 63, right: 872.4, top: 94, bottom: 325 }, xRangeA, [-0.7, 5.0]),
    plugins: [rAxes({ y: { ticks: lodTicks, len: 4, gap: 15, font: smallFont } })]
});

// ---------- A bottom: founder effects ----------
const effSeries = [effAJ, eff129, effNOD, effNZO, effCAST, effPWK, effWSB];
const effSets = [];
effSets.push(lineSet([{ x: peakMb, y: -88 }, { x: peakMb, y: 77.1 }], '#7a7a7a', 1.5, 0));
effSets.push(lineSet(toXY(effB6), b6Color, 2, 9));
effSeries.forEach((s, i) => effSets.push(lineSet(toXY(s), strainColors[i], 2, 8 - i)));

new Chart(document.getElementById('effChart'), {
    type: 'scatter',
    data: { datasets: effSets },
    options: baseOptions({ left: 63, right: 872.4, top: 225, bottom: 75 }, xRangeA, [-88, 77.1]),
    plugins: [rAxes({
        y: { ticks: effTicks, labels: effLabels, len: 4, gap: 15, font: smallFont },
        x: { ticks: mbTicks, labels: mbLabels, len: 5, gap: 17, font: smallFont }
    })]
});

// ---------- B: violins ----------
function outline(center, ys, ws) {
    const right = ys.map((y, i) => ({ x: center + ws[i], y: y }));
    const left = ys.map((y, i) => ({ x: center - ws[i], y: y })).reverse();
    return right.concat(left, [right[0]]);
}
const violinSets = [];
[[femaleOutlineY, femaleOutlineW, femaleBox, femaleJitter], [maleOutlineY, maleOutlineW, maleBox, maleJitter]].forEach((g, i) => {
    const c = i + 1;
    const [oy, ow, box, jit] = g;
    violinSets.push({ ...lineSet([{ x: c, y: box[2] }], '#fff', 0, 0), showLine: false, pointRadius: 2, pointBackgroundColor: '#ddd', pointBorderWidth: 0 });
    violinSets.push({ ...lineSet([{ x: c, y: box[1] }, { x: c, y: box[3] }], '#000', 9.5, 1), borderCapStyle: 'butt' });
    violinSets.push(lineSet([{ x: c, y: box[0] }, { x: c, y: box[4] }], '#777', 1.2, 2));
    violinSets.push({
        data: jit.map(p => ({ x: c + p[0], y: p[1] })), showLine: false, order: 3,
        pointRadius: 3.2, pointBackgroundColor: 'rgba(0,0,0,0)', pointBorderColor: 'rgba(20,20,20,0.6)', pointBorderWidth: 1
    });
    violinSets.push({ ...lineSet(outline(c, oy, ow), '#555', 1, 4), tension: 0.3 });
});

new Chart(document.getElementById('violinChart'), {
    type: 'scatter',
    data: { datasets: violinSets },
    options: baseOptions({ left: 632.7, right: 427.7, top: 93.5, bottom: 130.2 }, [0.4244, 2.5756], [-2.5, 2.4]),
    plugins: [rAxes({ y: { ticks: transcriptTicks, len: 5, gap: 17, font: '10px "Liberation Sans", Arial' } })]
});

// ---------- C: scatter ----------
new Chart(document.getElementById('scatterChart'), {
    type: 'scatter',
    data: {
        datasets: [
            lineSet(fitLineX.map((x, i) => ({ x: x, y: fitLineY[i] })), '#5a5a5a', 1.5, 0),
            { label: 'Male', data: toXY(malePts), order: 1, pointRadius: 3.4, pointBackgroundColor: '#80d4b5', pointBorderWidth: 0 },
            { label: 'Female', data: toXY(femalePts), order: 2, pointRadius: 3.4, pointBackgroundColor: '#92c4e2', pointBorderWidth: 0 }
        ]
    },
    options: baseOptions({ left: 1062.7, right: 3, top: 123, bottom: 155 }, [-2.63, 2.54], [-3.35, 3.316]),
    plugins: [rAxes({
        y: { ticks: trigTicks, len: 7, gap: 22, font: '12px "Liberation Sans", Arial' },
        x: { ticks: sorbsTicks, len: 6, gap: 23, font: '12px "Liberation Sans", Arial' }
    })]
});
</script>
</body>
</html>
